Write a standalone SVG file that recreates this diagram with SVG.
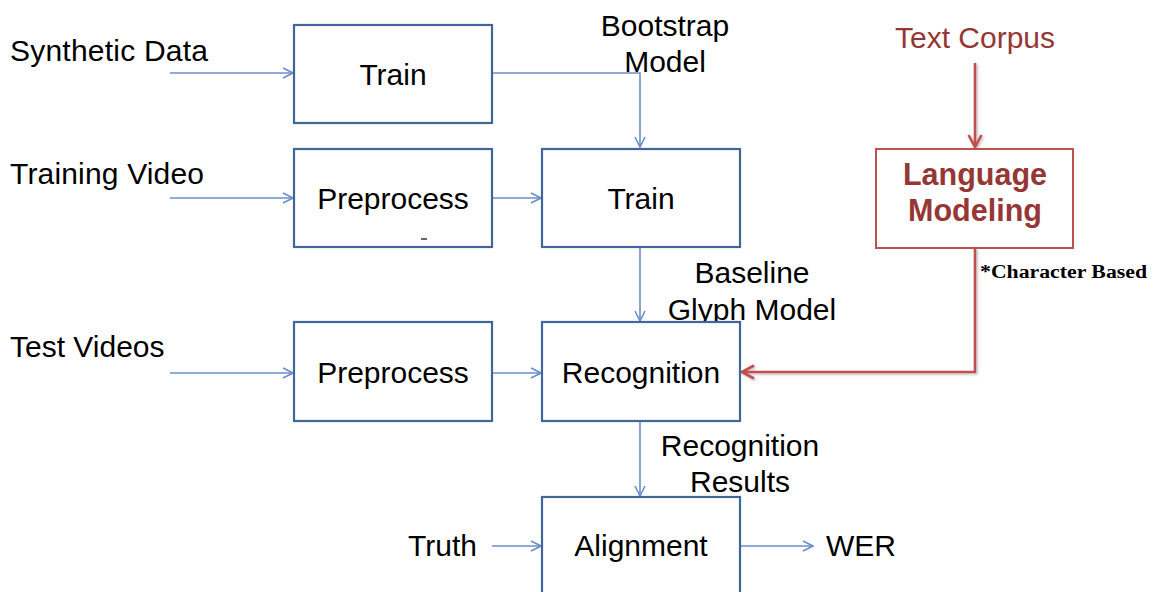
<svg xmlns="http://www.w3.org/2000/svg" width="1159" height="592" viewBox="0 0 1159 592">
  <defs>
    <marker id="arrowBlue" viewBox="0 0 12 12" refX="11" refY="6" markerWidth="12" markerHeight="12" markerUnits="userSpaceOnUse" orient="auto">
      <path d="M1,1 L11,6 L1,11" fill="none" stroke="#6A8FC8" stroke-width="1.6"/>
    </marker>
    <marker id="arrowRed" viewBox="0 0 16 16" refX="14" refY="8" markerWidth="16" markerHeight="16" markerUnits="userSpaceOnUse" orient="auto">
      <path d="M2,1.5 L14,8 L2,14.5" fill="none" stroke="#C0504D" stroke-width="2.6"/>
    </marker>
    <filter id="shadow" x="-10%" y="-10%" width="120%" height="120%">
      <feDropShadow dx="1.5" dy="1.5" stdDeviation="1.2" flood-color="#000" flood-opacity="0.25"/>
    </filter>
  </defs>
  <style>
    .box { fill: #fff; stroke: #41679A; stroke-width: 2.2; }
    .lm { fill: #fff; stroke: #C0504D; stroke-width: 2; }
    .conn { fill: none; stroke: #6A8FC8; stroke-width: 1.6; }
    .red { fill: none; stroke: #C0504D; stroke-width: 2.6; }
    text { font-family: "Liberation Sans", Arial, sans-serif; font-size: 30px; fill: #000; }
    .c { text-anchor: middle; }
    .rt { fill: #953735; }
    .bold { font-weight: bold; font-size: 30.5px; }
    .note { font-family: "Liberation Serif", "Times New Roman", serif; font-size: 18px; font-weight: bold; }
  </style>
  <rect width="1159" height="592" fill="#fff"/>

  <!-- connectors -->
  <g id="connectors">
    <line class="conn" x1="170" y1="73" x2="293" y2="73" marker-end="url(#arrowBlue)"/>
    <polyline class="conn" points="492,73 640,73 640,147" marker-end="url(#arrowBlue)"/>
    <line class="conn" x1="170" y1="198" x2="293" y2="198" marker-end="url(#arrowBlue)"/>
    <line class="conn" x1="492" y1="198" x2="541" y2="198" marker-end="url(#arrowBlue)"/>
    <line class="conn" x1="640" y1="247" x2="640" y2="321" marker-end="url(#arrowBlue)"/>
    <line class="conn" x1="170" y1="373" x2="293" y2="373" marker-end="url(#arrowBlue)"/>
    <line class="conn" x1="492" y1="373" x2="541" y2="373" marker-end="url(#arrowBlue)"/>
    <line class="conn" x1="640" y1="421" x2="640" y2="496" marker-end="url(#arrowBlue)"/>
    <line class="conn" x1="492" y1="546" x2="541" y2="546" marker-end="url(#arrowBlue)"/>
    <line class="conn" x1="740" y1="546" x2="813" y2="546" marker-end="url(#arrowBlue)"/>
    <g filter="url(#shadow)">
      <line class="red" x1="975" y1="63" x2="975" y2="147" marker-end="url(#arrowRed)"/>
      <polyline class="red" points="975,248 975,372 742,372" marker-end="url(#arrowRed)"/>
    </g>
  </g>

  <!-- input labels -->
  <g id="inputs">
    <text x="10" y="61" textLength="198">Synthetic Data</text>
    <text x="10" y="184" textLength="194">Training Video</text>
    <text x="10" y="357">Test Videos</text>
    <text x="408" y="556">Truth</text>
    <text x="826" y="556">WER</text>
  </g>

  <!-- edge labels -->
  <g id="edge-labels">
    <text class="c" x="665" y="36">Bootstrap</text>
    <text class="c" x="665" y="72">Model</text>
    <text class="c" x="752" y="283">Baseline</text>
    <text class="c" x="752" y="320">Glyph Model</text>
    <text class="c" x="740" y="456">Recognition</text>
    <text class="c" x="740" y="492">Results</text>
  </g>

  <g id="train-bootstrap">
    <rect class="box" x="294" y="25" width="198" height="98"/>
    <text class="c" x="393" y="85">Train</text>
  </g>

  <g id="preprocess-training">
    <rect class="box" x="294" y="149" width="198" height="98"/>
    <text class="c" x="393" y="209">Preprocess</text>
    <line x1="421" y1="239" x2="427" y2="239" stroke="#333" stroke-width="1.5"/>
  </g>

  <g id="train-glyph">
    <rect class="box" x="542" y="149" width="198" height="98"/>
    <text class="c" x="641" y="209">Train</text>
  </g>

  <g id="preprocess-test">
    <rect class="box" x="294" y="322" width="198" height="99"/>
    <text class="c" x="393" y="383">Preprocess</text>
  </g>

  <g id="recognition">
    <rect class="box" x="542" y="322" width="198" height="99"/>
    <text class="c" x="641" y="383">Recognition</text>
  </g>

  <g id="alignment">
    <rect class="box" x="542" y="497" width="198" height="110"/>
    <text class="c" x="641" y="556">Alignment</text>
  </g>

  <g id="text-corpus">
    <text class="c rt" x="975" y="48">Text Corpus</text>
  </g>

  <g id="language-modeling">
    <rect class="lm" x="876" y="149" width="197" height="99"/>
    <text class="c rt bold" x="975" y="185">Language</text>
    <text class="c rt bold" x="975" y="221">Modeling</text>
    <text class="note" x="980" y="278" textLength="167" lengthAdjust="spacingAndGlyphs">*Character Based</text>
  </g>
</svg>
